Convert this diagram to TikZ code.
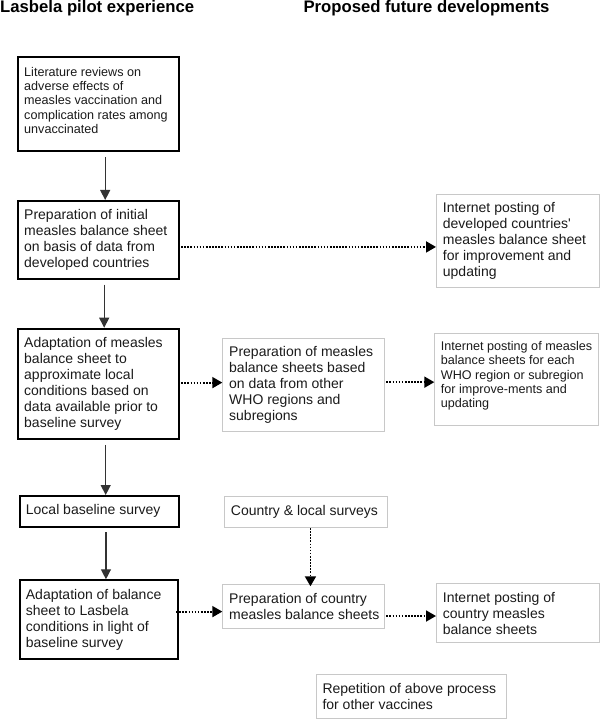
\documentclass[tikz,border=0pt]{standalone}
\usepackage{fontspec}
\setmainfont{Liberation Sans}
\usetikzlibrary{arrows.meta}
\definecolor{txt}{HTML}{1A1A1A}
\definecolor{boxgray}{HTML}{C8C8C8}
\definecolor{arrgray}{HTML}{333333}
\newcommand{\bodyfont}{\fontsize{14}{16}\selectfont}
\newcommand{\smallfont}{\fontsize{12.6}{14.4}\selectfont}
\newcommand{\headfont}{\fontsize{16.7}{20}\selectfont\bfseries}
\tikzset{
  boxbase/.style={rectangle, inner sep=0pt, anchor=north west},
  thickbox/.style={boxbase, draw=black, line width=1.8pt},
  thinbox/.style={boxbase, draw=boxgray, line width=1pt},
  dims/.style 2 args={minimum width=#1pt, minimum height=#2pt},
  label text/.style={inner sep=0pt, align=left, anchor=west, text=txt, font=\bodyfont},
  small text/.style={label text, font=\smallfont},
  head/.style={inner sep=0pt, anchor=base west, text=black, font=\headfont},
  arr/.style={draw=arrgray, line width=1.3pt, -{Triangle[length=10pt,width=10pt]}},
  dotarr/.style={draw=black, line width=1.8pt, dash pattern=on 1.6pt off 1.5pt, -{Triangle[length=10pt,width=11pt]}},
}
\begin{document}
\begin{tikzpicture}[x=1pt, y=-1pt]
\useasboundingbox (0,0) rectangle (600,719);

% headers
\node[head] (h1) at (0,12.7) {Lasbela pilot experience};
\node[head] (h2) at (303.3,12.7) {Proposed future developments};

% left column boxes
\node[thickbox, dims={161}{94}] (b1) at (17.3,56) {};
\node[small text] (b1t) at ([xshift=6.7pt,yshift=3.5pt]b1.west) {Literature reviews on\\adverse effects of\\measles vaccination and\\complication rates among\\unvaccinated};

\node[thickbox, dims={161}{77.7}] (b2) at (17.3,200) {};
\node[label text] (b2t) at ([xshift=6.7pt]b2.west) {Preparation of initial\\measles balance sheet\\on basis of data from\\developed countries};

\node[thickbox, dims={161}{110}] (b3) at (17.3,327.7) {};
\node[label text] (b3t) at ([xshift=6.7pt]b3.west) {Adaptation of measles\\balance sheet to\\approximate local\\conditions based on\\data available prior to\\baseline survey};

\node[thickbox, dims={159.3}{30.7}] (b4) at (19,495) {};
\node[label text] (b4t) at ([xshift=6.7pt]b4.west) {Local baseline survey};

\node[thickbox, dims={158.3}{78.4}] (b5) at (19,579.3) {};
\node[label text] (b5t) at ([xshift=6.7pt]b5.west) {Adaptation of balance\\sheet to Lasbela\\conditions in light of\\baseline survey};

% middle column boxes
\node[thinbox, dims={162}{92.7}] (p1) at (222.3,338.3) {};
\node[label text] (p1t) at ([xshift=6.7pt]p1.west) {Preparation of measles\\balance sheets based\\on data from other\\WHO regions and\\subregions};

\node[thinbox, dims={162.7}{31}] (c1) at (224,496) {};
\node[label text] (c1t) at ([xshift=6.7pt]c1.west) {Country \& local surveys};

\node[thinbox, dims={162}{44}] (p2) at (222.3,584.3) {};
\node[label text] (p2t) at ([xshift=6.7pt]p2.west) {Preparation of country\\measles balance sheets};

\node[thinbox, dims={190}{44.3}] (r1) at (315.7,674) {};
\node[label text] (r1t) at ([xshift=6.6pt]r1.west) {Repetition of above process\\for other vaccines};

% right column boxes
\node[thinbox, dims={163.3}{92.4}] (i1) at (436,194.3) {};
\node[label text] (i1t) at ([xshift=6.7pt]i1.west) {Internet posting of\\developed countries\textquotesingle\\measles balance sheet\\for improvement and\\updating};

\node[thinbox, dims={164}{92.3}] (i2) at (434.3,332.7) {};
\node[small text] (i2t) at ([xshift=6.4pt,yshift=3.5pt]i2.west) {Internet posting of measles\\balance sheets for each\\WHO region or subregion\\for improve-ments and\\updating};

\node[thinbox, dims={163}{59.6}] (i3) at (436,582.7) {};
\node[label text] (i3t) at ([xshift=6.7pt]i3.west) {Internet posting of\\country measles\\balance sheets};

% solid arrows
\draw[arr] ([xshift=6.5pt,yshift=-5pt]b1.south) -- ([xshift=6.5pt]b2.north);
\draw[arr] ([xshift=5.5pt,yshift=-5pt]b2.south) -- ([xshift=5.5pt]b3.north);
\draw[arr] ([xshift=7pt,yshift=-5.3pt]b3.south) -- ([xshift=7pt]b3.south |- b4.north);
\draw[arr] ([xshift=6.4pt,yshift=-4.5pt]b4.south) -- ([xshift=6.4pt]b4.south |- b5.north);

% dotted arrows
\draw[dotarr] ([xshift=1pt,yshift=-7.2pt]b2.east) -- ([yshift=-7.2pt]b2.east -| i1.west);
\draw[dotarr] ([xshift=-2pt,yshift=1pt]b3.east) -- ([yshift=1pt]b3.east -| p1.west);
\draw[dotarr] ([xshift=1pt,yshift=3pt]p1.east) -- ([yshift=3pt]p1.east -| i2.west);
\draw[dotarr] ([xshift=4.6pt]c1.south) -- ([xshift=4.6pt,yshift=-2pt]c1.south |- p2.north);
\draw[dotarr] ([xshift=-3pt,yshift=7.8pt]b5.east) -- ([yshift=7.8pt]b5.east -| p2.west);
\draw[dotarr] ([xshift=1pt,yshift=-9.2pt]p2.east) -- ([yshift=-9.2pt]p2.east -| i3.west);
\end{tikzpicture}
\end{document}
